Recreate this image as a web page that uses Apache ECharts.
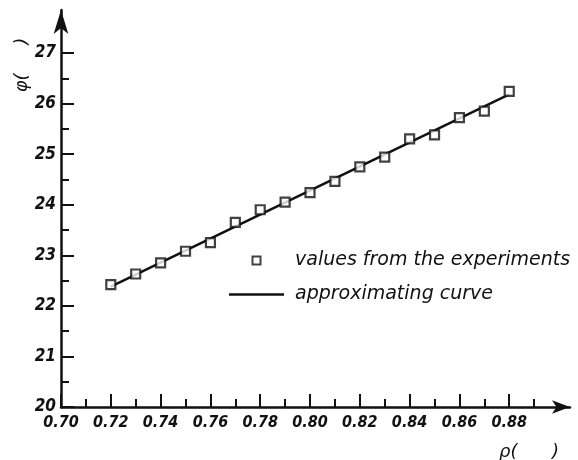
<!DOCTYPE html>
<html>
<head>
<meta charset="utf-8">
<script src="https://cdn.jsdelivr.net/npm/echarts@6/dist/echarts.min.js"></script>
<style>
  html, body { margin: 0; padding: 0; background: #fff; }
  #chart { width: 578px; height: 460px; }
</style>
</head>
<body>
<div id="chart"></div>
<script>
// Density rho and the measured quantity phi
const rhoValues = [0.72, 0.73, 0.74, 0.75, 0.76, 0.77, 0.78, 0.79, 0.80,
                   0.81, 0.82, 0.83, 0.84, 0.85, 0.86, 0.87, 0.88];
const phiMeasured = [22.42, 22.63, 22.85, 23.08, 23.25, 23.65, 23.90, 24.05, 24.24,
                     24.46, 24.75, 24.94, 25.30, 25.38, 25.72, 25.85, 26.24];
// Straight-line fit, given by its two end points
const fitRho = [0.72, 0.88];
const fitPhi = [22.38, 26.18];

// Tick labels and minor tick positions
const xTickLabels = ['0.70', '0.72', '0.74', '0.76', '0.78', '0.80', '0.82', '0.84', '0.86', '0.88'];
const xMinorTicks = [0.71, 0.73, 0.75, 0.77, 0.79, 0.81, 0.83, 0.85, 0.87, 0.89];
const yTickLabels = ['20', '21', '22', '23', '24', '25', '26', '27'];
const yMinorTicks = [20.5, 21.5, 22.5, 23.5, 24.5, 25.5, 26.5];

const seriesNames = ['values from the experiments', 'approximating curve'];

const xMajor = xTickLabels.map(Number);
const yMajor = yTickLabels.map(Number);

const tickFont = "'Liberation Sans Narrow', 'DejaVu Sans Condensed', 'Liberation Sans', sans-serif";
const textFont = "'DejaVu Sans', sans-serif";

// Axis extents reach a little past the last tick so the arrow heads sit beyond it
const X_MIN = 0.70, X_MAX = 0.9044, Y_MIN = 20, Y_MAX = 27.85;

const chart = echarts.init(document.getElementById('chart'), null, { renderer: 'canvas' });

chart.setOption({
  animation: false,
  backgroundColor: '#fff',
  grid: { left: 61, right: 8, top: 10, bottom: 53, containLabel: false },
  xAxis: [
    {
      type: 'value', min: X_MIN, max: X_MAX, position: 'bottom',
      splitLine: { show: false },
      axisLine: {
        show: true, onZero: false,
        lineStyle: { color: '#111', width: 2.5 },
        symbol: ['none', 'arrow'], symbolSize: [10, 18]
      },
      axisTick: { show: true, inside: true, length: 13, customValues: xMajor,
                  lineStyle: { color: '#111', width: 2 } },
      axisLabel: {
        show: true, customValues: xMajor, margin: 8,
        formatter: v => v.toFixed(2),
        color: '#111', fontSize: 16, fontStyle: 'italic', fontWeight: 'bold',
        fontFamily: tickFont
      }
    },
    {
      type: 'value', min: X_MIN, max: X_MAX, position: 'bottom',
      splitLine: { show: false },
      axisLine: { show: false, onZero: false },
      axisTick: { show: true, inside: true, length: 8, customValues: xMinorTicks,
                  lineStyle: { color: '#111', width: 2 } },
      axisLabel: { show: false }
    }
  ],
  yAxis: [
    {
      type: 'value', min: Y_MIN, max: Y_MAX, position: 'left',
      splitLine: { show: false },
      axisLine: {
        show: true, onZero: false,
        lineStyle: { color: '#111', width: 2.5 },
        symbol: ['none', 'arrow'], symbolSize: [11, 24]
      },
      axisTick: { show: true, inside: true, length: 13, customValues: yMajor,
                  lineStyle: { color: '#111', width: 2 } },
      axisLabel: {
        show: true, customValues: yMajor, margin: 5,
        formatter: v => String(Math.round(v)),
        color: '#111', fontSize: 17, fontStyle: 'italic', fontWeight: 'bold',
        fontFamily: tickFont
      }
    },
    {
      type: 'value', min: Y_MIN, max: Y_MAX, position: 'left',
      splitLine: { show: false },
      axisLine: { show: false, onZero: false },
      axisTick: { show: true, inside: true, length: 8, customValues: yMinorTicks,
                  lineStyle: { color: '#111', width: 2 } },
      axisLabel: { show: false }
    }
  ],
  legend: {
    orient: 'vertical',
    left: 229, top: 251, padding: 0,
    itemWidth: 55, itemHeight: 8, itemGap: 15,
    selectedMode: false,
    data: [
      { name: seriesNames[0], icon: 'path://M0 0H10V10H0Z' },
      { name: seriesNames[1], icon: 'path://M0 0H110V5H0Z',
        itemStyle: { color: '#111', borderWidth: 0 } }
    ],
    textStyle: {
      color: '#111', fontSize: 19, fontStyle: 'italic',
      fontFamily: textFont, padding: [0, 0, 0, 6]
    }
  },
  series: [
    {
      name: seriesNames[1],
      type: 'line',
      data: fitRho.map((r, i) => [r, fitPhi[i]]),
      symbol: 'none',
      lineStyle: { color: '#111', width: 2.5 },
      itemStyle: { color: '#111' },
      z: 2
    },
    {
      name: seriesNames[0],
      type: 'scatter',
      data: rhoValues.map((r, i) => [r, phiMeasured[i]]),
      symbol: 'rect',
      symbolSize: 9,
      itemStyle: { color: '#fff', borderColor: '#111', borderWidth: 2.2 },
      z: 3
    }
  ],
  graphic: [
    {
      type: 'text', x: 22, y: 65, rotation: Math.PI / 2,
      style: {
        text: 'φ(     )', align: 'center', verticalAlign: 'middle',
        fill: '#111', font: 'italic 18px ' + textFont
      }
    },
    {
      type: 'text', x: 529, y: 452,
      style: {
        text: 'ρ(      )', align: 'center', verticalAlign: 'middle',
        fill: '#111', font: 'italic 18px ' + textFont
      }
    }
  ]
});
</script>
</body>
</html>
